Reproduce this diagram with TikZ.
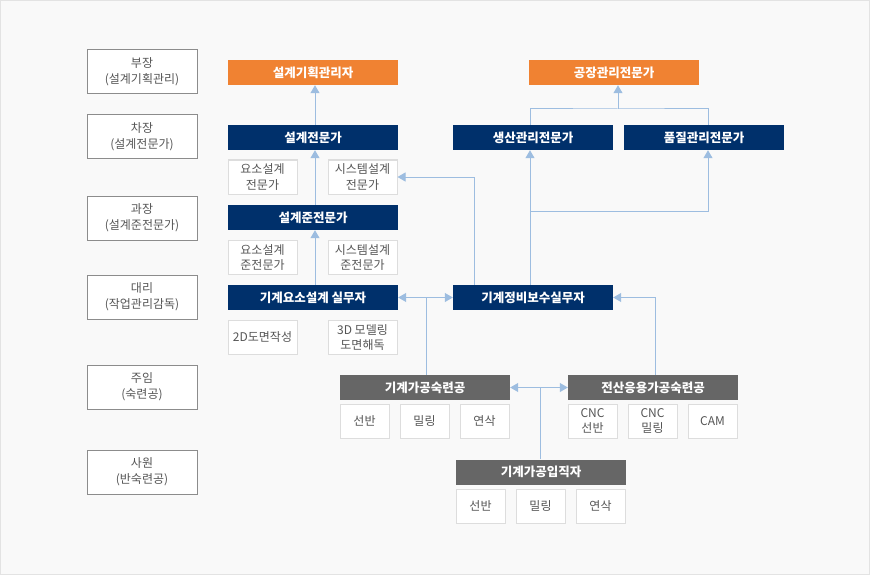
\documentclass[tikz,border=0pt]{standalone}
\usepackage{fontspec}
\setmainfont{Noto Sans CJK KR}
\usetikzlibrary{arrows.meta,calc}
\definecolor{bgc}{HTML}{F9F9F9}
\definecolor{framec}{HTML}{E3E3E3}
\definecolor{orangec}{HTML}{F08232}
\definecolor{navyc}{HTML}{00306B}
\definecolor{grayc}{HTML}{666666}
\definecolor{txtc}{HTML}{555555}
\definecolor{lvlline}{HTML}{8C8C8C}
\definecolor{smline}{HTML}{DDDDDD}
\definecolor{arrc}{HTML}{9DBDE0}
\tikzset{
  lvl/.style={draw=lvlline,fill=white,line width=1pt,minimum width=110pt,minimum height=44pt,inner sep=0pt,align=center,text=txtc,font=\fontsize{12pt}{16pt}\selectfont},
  title/.style={minimum width=170pt,minimum height=25pt,inner sep=0pt,text=white,font=\fontsize{12.5pt}{15pt}\selectfont\bfseries},
  wide/.style={title,minimum width=160pt},
  orangebox/.style={title,fill=orangec},
  navybox/.style={title,fill=navyc},
  graybox/.style={title,fill=grayc},
  small/.style={draw=smline,fill=white,line width=1pt,minimum width=69pt,minimum height=34pt,inner sep=0pt,align=center,text=txtc,font=\fontsize{12pt}{15pt}\selectfont},
  tiny/.style={small,minimum width=49pt},
  conn/.style={draw=arrc,line width=1pt},
  arr/.style={conn,-{Triangle[width=9pt,length=8pt]}}
}
\begin{document}
\begin{tikzpicture}[x=1pt,y=-1pt]
\path[use as bounding box,fill=bgc] (0,0) rectangle (870,575);
\draw[framec,line width=1pt] (0.5,0.5) rectangle (869.5,574.5);
% level boxes
\node[lvl] (l1) at (142,72) {부장\\(설계기획관리)};
\node[lvl] (l2) at (142,137) {차장\\(설계전문가)};
\node[lvl] (l3) at (142,218) {과장\\(설계준전문가)};
\node[lvl] (l4) at (142,297) {대리\\(작업관리감독)};
\node[lvl] (l5) at (142,387) {주임\\(숙련공)};
\node[lvl] (l6) at (142,472) {사원\\(반숙련공)};
% design track
\node[orangebox] (m1) at (313,72.5) {설계기획관리자};
\node[navybox] (m2) at (313,137.5) {설계전문가};
\node[small] (s1) at (262.5,177) {요소설계\\전문가};
\node[small] (s2) at (362.5,177) {시스템설계\\전문가};
\node[navybox] (m3) at (313,217.5) {설계준전문가};
\node[small] (s3) at (262.5,257) {요소설계\\준전문가};
\node[small] (s4) at (362.5,257) {시스템설계\\준전문가};
\node[navybox] (m4) at (313,297.5) {기계요소설계 실무자};
\node[small] (s5) at (262.5,337.5) {2D도면작성};
\node[small] (s6) at (362.5,337.5) {3D 모델링\\도면해독};
% management track
\node[orangebox] (f1) at (614,72.5) {공장관리전문가};
\node[navybox,wide] (p1) at (533,137.5) {생산관리전문가};
\node[navybox,wide] (p2) at (704,137.5) {품질관리전문가};
\node[navybox,wide] (q) at (533,297.5) {기계정비보수실무자};
% machining
\node[graybox] (g1) at (425,387.5) {기계가공숙련공};
\node[tiny] (t1) at (364.5,421) {선반};
\node[tiny] (t2) at (424.5,421) {밀링};
\node[tiny] (t3) at (484.5,421) {연삭};
\node[graybox] (g2) at (653,387.5) {전산응용가공숙련공};
\node[tiny] (t4) at (592.5,421) {CNC\\선반};
\node[tiny] (t5) at (652.5,421) {CNC\\밀링};
\node[tiny] (t6) at (712.5,421) {CAM};
\node[graybox] (g3) at (541,472) {기계가공입직자};
\node[tiny] (t7) at (480.5,506) {선반};
\node[tiny] (t8) at (540.5,506) {밀링};
\node[tiny] (t9) at (600.5,506) {연삭};
% connectors: design track
\draw[arr] ([xshift=2pt]m4.north) -- ([xshift=2pt]m3.south);
\draw[arr] ([xshift=2pt]m3.north) -- ([xshift=2pt]m2.south);
\draw[arr] ([xshift=2pt]m2.north) -- ([xshift=2pt]m1.south);
% management merge
\coordinate (j1) at (618,109);
\draw[conn] ([xshift=-3pt]p1.north) |- (j1) -| ([xshift=4pt]p2.north);
\draw[arr] (j1) -- (j1 |- f1.south);
% from maintenance
\draw[arr] ([xshift=-3pt]q.north) -- ([xshift=-3pt]p1.south);
\coordinate (j2) at ([xshift=-3pt]$(q.north)!0.548!(p1.south)$);
\draw[arr] (j2) -| ([xshift=4pt]p2.south);
\draw[arr] ([xshift=-59pt]q.north) |- (s2.east);
% skilled
\coordinate (j3) at ([xshift=1pt]g1.north |- m4.east);
\draw[conn] ([xshift=1pt]g1.north) -- (j3);
\draw[arr] (j3) -- (m4.east);
\draw[arr] (j3) -- (q.west);
\coordinate (j4) at ([xshift=-1pt]g3.north |- g1.east);
\draw[conn] ([xshift=-1pt]g3.north) -- (j4);
\draw[arr] (j4) -- (g1.east);
\draw[arr] (j4) -- (g2.west);
\draw[arr] ([xshift=2pt]g2.north) |- (q.east);
\end{tikzpicture}
\end{document}
